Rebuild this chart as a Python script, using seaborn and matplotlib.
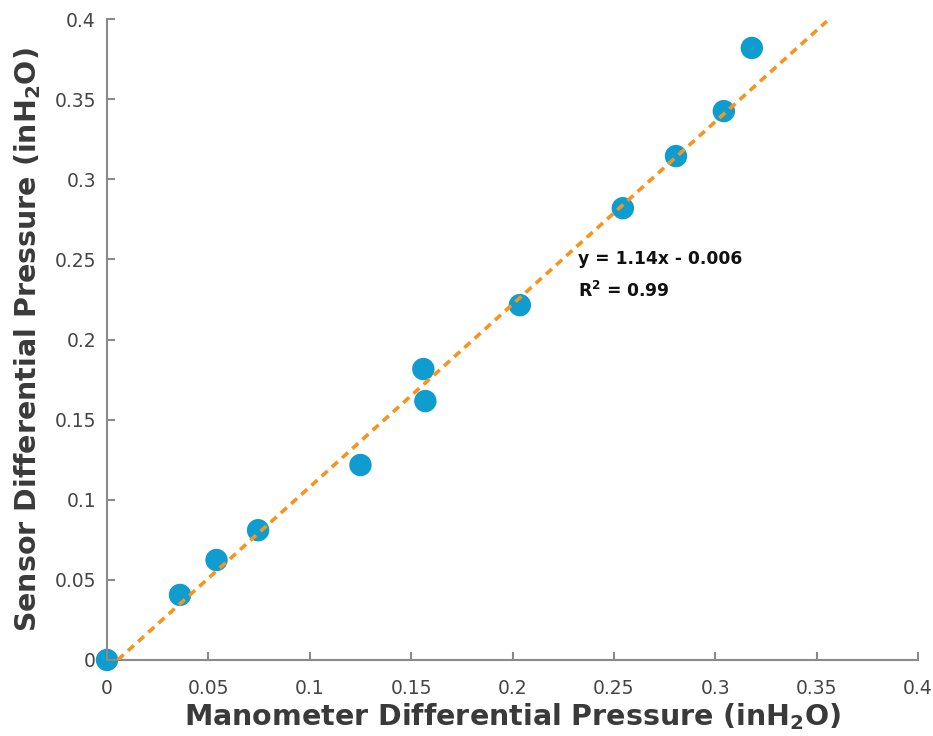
import numpy as np
import pandas as pd
import matplotlib
matplotlib.use("Agg")
import matplotlib.pyplot as plt
import seaborn as sns

manometer = [0.0, 0.036, 0.054, 0.0745, 0.125, 0.156, 0.157, 0.2036, 0.2544, 0.2806, 0.3042, 0.318]
sensor = [0.0, 0.0406, 0.0624, 0.081, 0.1217, 0.1816, 0.1616, 0.2215, 0.282, 0.3145, 0.3426, 0.382]
slope = 1.14
intercept = -0.006
fit_x = [0.0053, 0.355]
ticks = [0, 0.05, 0.1, 0.15, 0.2, 0.25, 0.3, 0.35, 0.4]
tick_labels = ['0', '0.05', '0.1', '0.15', '0.2', '0.25', '0.3', '0.35', '0.4']

df = pd.DataFrame({'Manometer': manometer, 'Sensor': sensor})
fit = pd.DataFrame({'x': fit_x, 'y': [slope * v + intercept for v in fit_x]})

sns.set_style("white")
plt.rcParams['font.family'] = ['DejaVu Sans']
plt.rcParams['mathtext.default'] = 'bf'

fig = plt.figure(figsize=(9.33, 7.36), dpi=100)
ax = fig.add_axes([0.1147, 0.1033, 0.8693, 0.8707])

sns.lineplot(data=fit, x='x', y='y', ax=ax, color='#f7941d', linewidth=2.6,
             linestyle=(0, (2.2, 1.6)), zorder=3)
sns.scatterplot(data=df, x='Manometer', y='Sensor', ax=ax, color='#0f9ccf', s=260,
                edgecolor='none', zorder=2, clip_on=False)

ax.set_xlim(0, 0.4)
ax.set_ylim(0, 0.4)
ax.set_xticks(ticks)
ax.set_xticklabels(tick_labels)
ax.set_yticks(ticks)
ax.set_yticklabels(tick_labels)

for side in ['top', 'right']:
    ax.spines[side].set_visible(False)
for side in ['left', 'bottom']:
    ax.spines[side].set_color('#8a8a8a')
    ax.spines[side].set_linewidth(1.5)

ax.tick_params(axis='both', direction='in', length=6, width=1.5, color='#8a8a8a',
               labelsize=13.5, labelcolor='#454545')
ax.tick_params(axis='y', pad=8, left=True)
ax.tick_params(axis='x', pad=14, bottom=True)

ax.set_xlabel('Manometer Differential Pressure (inH$_2$O)', fontsize=20.5, fontweight='bold',
              color='#3a3a3a', labelpad=2)
ax.set_ylabel('Sensor Differential Pressure (inH$_2$O)', fontsize=20.5, fontweight='bold',
              color='#3a3a3a', labelpad=8)

ax.text(0.2323, 0.240, 'y = 1.14x - 0.006\nR$^2$ = 0.99', fontsize=12.3, fontweight='bold',
        color='#111111', ha='left', va='center', linespacing=1.85)

plt.savefig('out.png', dpi=100)
